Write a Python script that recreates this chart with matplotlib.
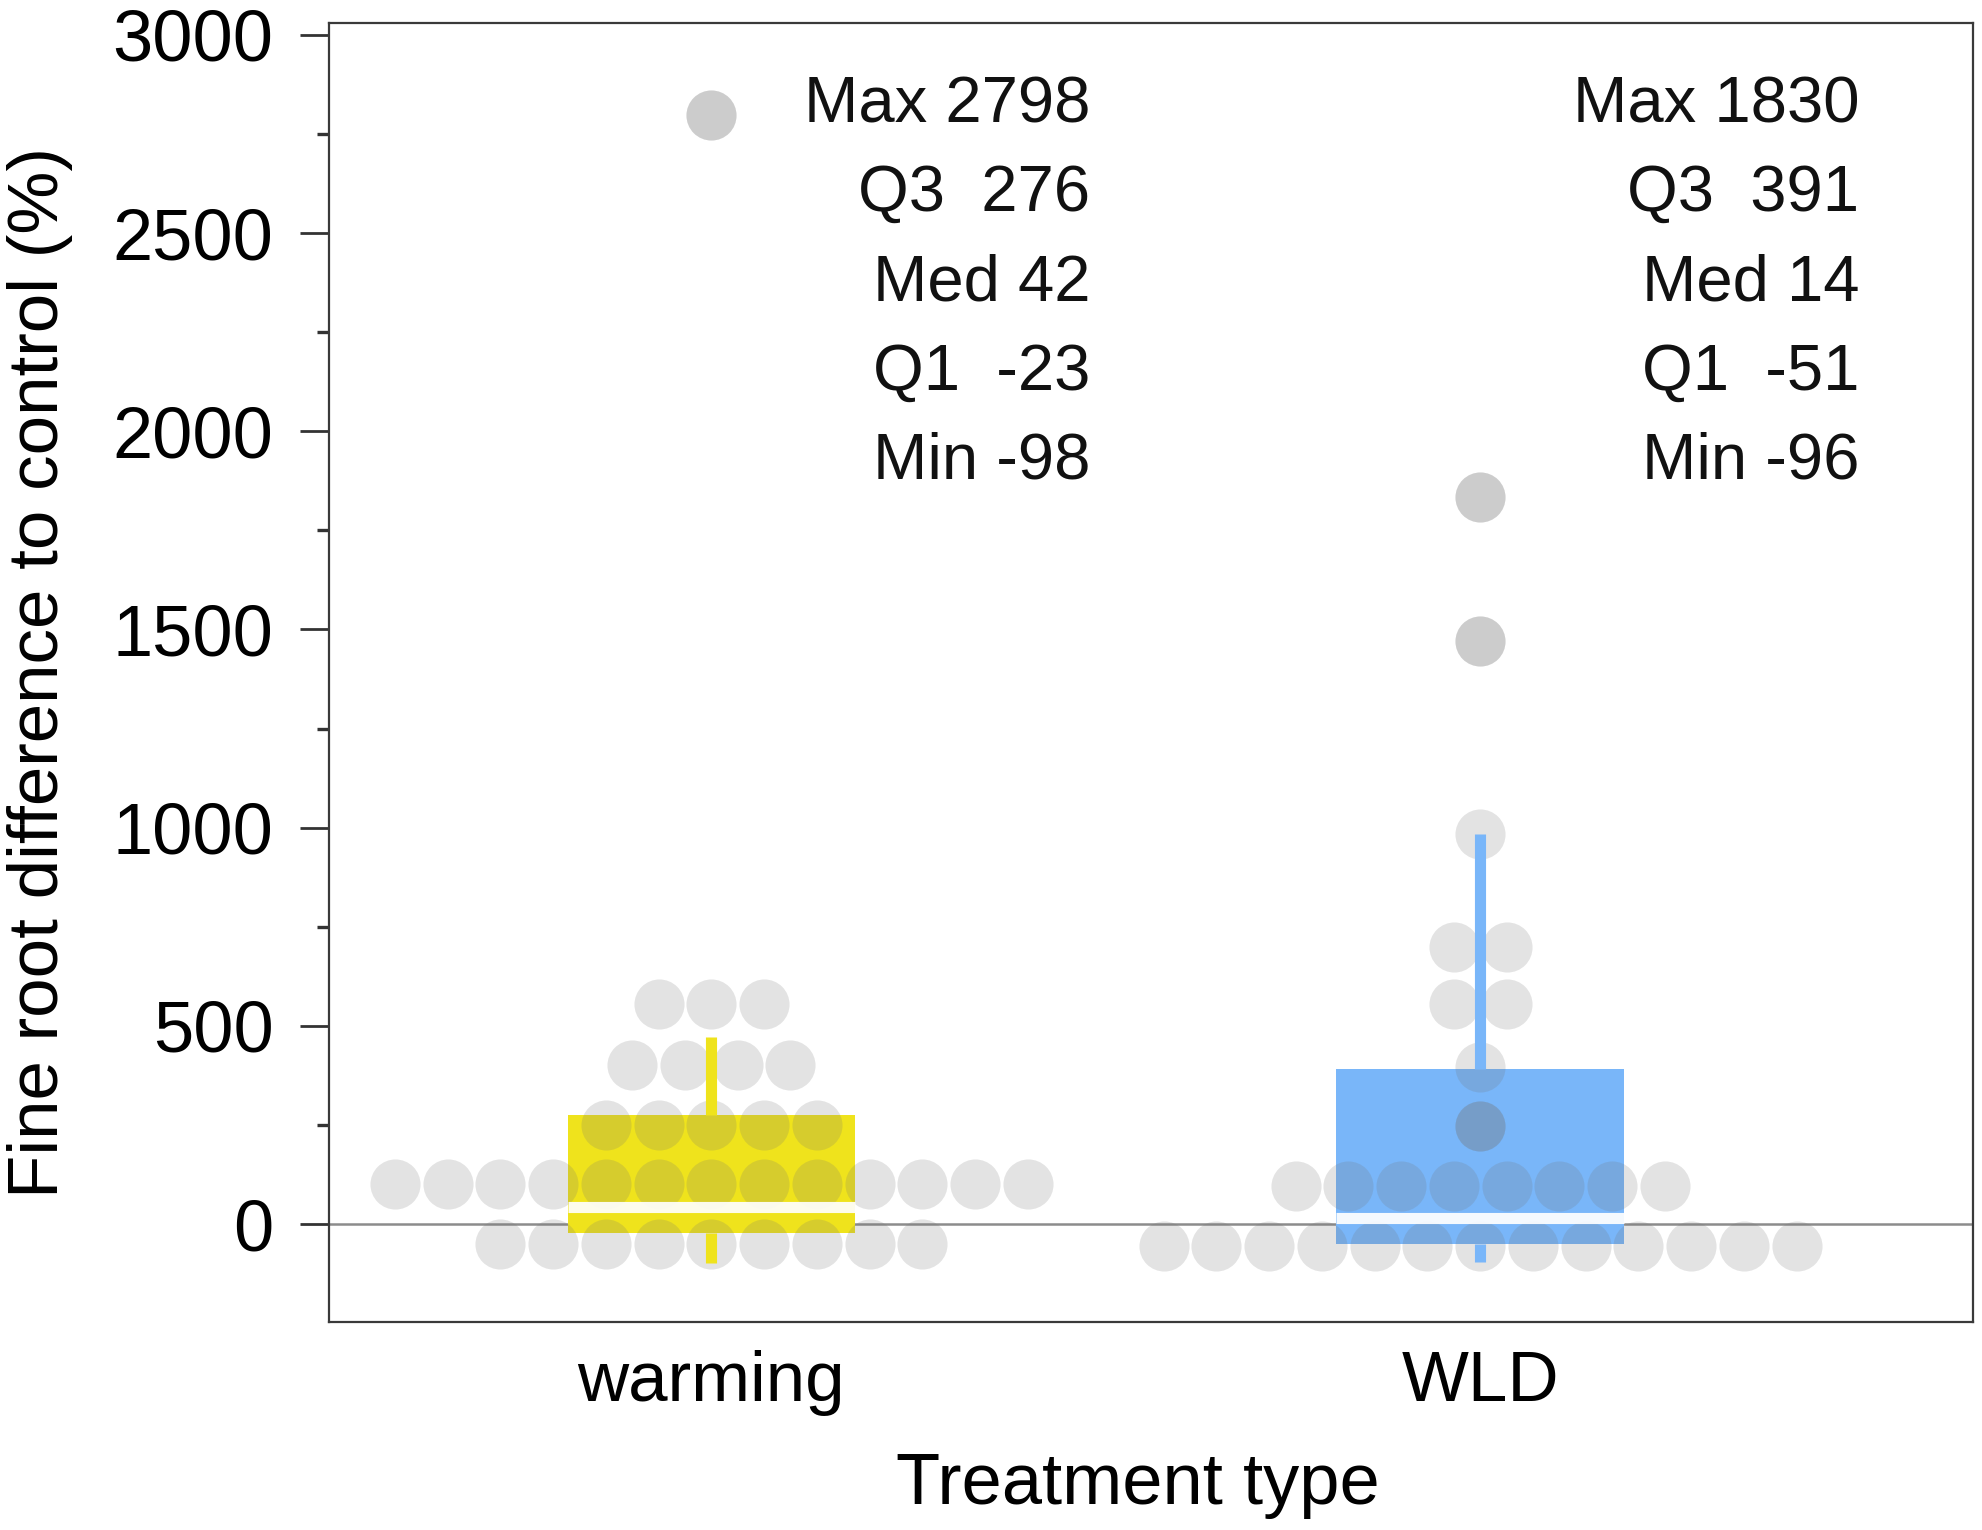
import matplotlib
matplotlib.use("Agg")
import matplotlib.pyplot as plt
from matplotlib.ticker import MultipleLocator

plt.rcParams['font.family'] = ['Liberation Sans', 'DejaVu Sans']

# data
treatments = ["warming", "WLD"]

# dot rows: value of each row and how many dots sit side by side in it
warming_rows = [-50, 100, 250, 400, 555, 2798]
warming_counts = [9, 13, 5, 4, 3, 1]
warming_stacked = [2798]          # two points on top of each other
wld_rows = [-55, 96, 246, 397, 554, 700, 983, 1470, 1835]
wld_counts = [13, 8, 1, 1, 2, 2, 1, 1, 1]
wld_stacked = [246, 1470, 1835]

# box statistics
q1 = [-23, -51]
med = [42, 14]
q3 = [276, 391]
whisker_lo = [-98, -96]
whisker_hi = [473, 983]

stat_labels = ["Max", "Q3 ", "Med", "Q1 ", "Min"]
warming_stats = ["2798", "276", "42", "-23", "-98"]
wld_stats = ["1830", "391", "14", "-51", "-96"]

box_colors = ["#efe31c", "#79b6f9"]

fig = plt.figure(figsize=(19.83, 15.30), dpi=100)
ax = fig.add_axes([0.166, 0.136, 0.829, 0.849])

ax.axhline(0, color="#8c8c8c", lw=1.8, zorder=1)

stats = []
for i in range(2):
    stats.append(dict(q1=q1[i], med=med[i], q3=q3[i],
                      whislo=whisker_lo[i], whishi=whisker_hi[i], fliers=[]))
bp = ax.bxp(stats, positions=[0, 1], widths=0.374, patch_artist=True,
            showcaps=False, showfliers=False,
            boxprops=dict(linewidth=0, zorder=2),
            whiskerprops=dict(linewidth=8, zorder=4, solid_capstyle="butt"),
            medianprops=dict(color="white", linewidth=8, alpha=0.92, zorder=4,
                             solid_capstyle="butt"))
for i, patch in enumerate(bp["boxes"]):
    patch.set_facecolor(box_colors[i])
    patch.set_edgecolor("none")
for j, w in enumerate(bp["whiskers"]):
    w.set_color(box_colors[j // 2])

# dots laid out side by side within each row
dot_step = 0.0686
dot_kw = dict(s=1300, color=(0.45, 0.45, 0.45), alpha=0.2, linewidths=0, zorder=3)
groups = [(warming_rows, warming_counts, warming_stacked),
          (wld_rows, wld_counts, wld_stacked)]
for pos, (rows, counts, stacked) in enumerate(groups):
    xs, ys = [], []
    for v, n in zip(rows, counts):
        for k in range(n):
            xs.append(pos + (k - (n - 1) / 2) * dot_step)
            ys.append(v)
    ax.scatter(xs, ys, **dot_kw)
    ax.scatter([pos] * len(stacked), stacked, **dot_kw)

# summary text
for pos, vals in enumerate([warming_stats, wld_stats]):
    for k, (lab, v) in enumerate(zip(stat_labels, vals)):
        ax.text(pos + 0.493, 2823 - 225 * k, f"{lab} {v}", ha="right", va="center",
                fontsize=47, color="#111111")

ax.set_xlim(-0.497, 1.641)
ax.set_ylim(-247, 3030)
ax.set_xticks([0, 1])
ax.set_xticklabels(treatments)
ax.yaxis.set_major_locator(MultipleLocator(500))
ax.yaxis.set_minor_locator(MultipleLocator(250))
ax.tick_params(axis="x", length=0, pad=20, labelsize=51)
ax.tick_params(axis="y", which="major", length=21, width=2.0, pad=19,
               labelsize=52, color="#333333")
ax.tick_params(axis="y", which="minor", length=9, width=2.4, color="#333333")
for sp in ax.spines.values():
    sp.set_color("#3a3a3a")
    sp.set_linewidth(1.6)

ax.set_xlabel("Treatment type", fontsize=52)
ax.set_ylabel("Fine root difference to control (%)", fontsize=51)
ax.xaxis.set_label_coords(0.492, -0.126)
ax.xaxis.label.set_va("center")
ax.yaxis.set_label_coords(-0.176, 0.5)
ax.yaxis.label.set_va("center")

fig.savefig("out.png", dpi=100)
